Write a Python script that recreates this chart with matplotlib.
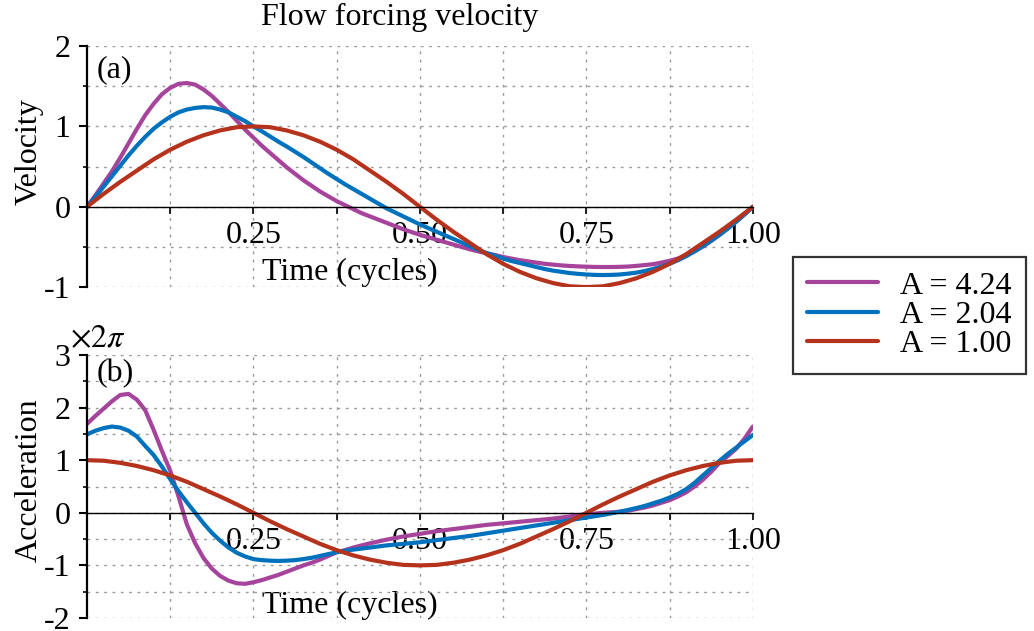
import numpy as np
import matplotlib
matplotlib.use("Agg")
import matplotlib.pyplot as plt
from matplotlib.ticker import MultipleLocator, FixedLocator, FixedFormatter

plt.rcParams['font.family'] = ['Liberation Serif', 'DejaVu Serif']
plt.rcParams['mathtext.fontset'] = 'stix'
plt.rcParams['axes.unicode_minus'] = False

# time samples (cycles): fine for A=4.24 / 2.04, coarse for A=1.00
t_fine = np.linspace(0, 1, 81)
t_coarse = np.linspace(0, 1, 41)

labels = ["A = 4.24", "A = 2.04", "A = 1.00"]
colors = ["#A6449B", "#0072BD", "#B5321C"]

# velocity
vel_a424 = [0, 0.14, 0.29, 0.44, 0.61, 0.79, 0.97, 1.14, 1.28, 1.40,
            1.48, 1.53, 1.54, 1.52, 1.46, 1.38, 1.28, 1.18, 1.07, 0.96,
            0.86, 0.76, 0.67, 0.58, 0.49, 0.41, 0.33, 0.26, 0.19, 0.13,
            0.07, 0.02, -0.03, -0.08, -0.12, -0.16, -0.20, -0.24, -0.28, -0.315,
            -0.35, -0.38, -0.41, -0.44, -0.47, -0.50, -0.53, -0.555, -0.58, -0.60,
            -0.625, -0.645, -0.665, -0.68, -0.695, -0.71, -0.72, -0.73, -0.737, -0.742,
            -0.746, -0.749, -0.75, -0.75, -0.748, -0.744, -0.736, -0.726, -0.715, -0.695,
            -0.672, -0.645, -0.605, -0.555, -0.495, -0.425, -0.35, -0.27, -0.185, -0.095,
            0]
vel_a204 = [0, 0.12, 0.25, 0.38, 0.51, 0.64, 0.76, 0.87, 0.97, 1.05,
            1.12, 1.175, 1.21, 1.23, 1.24, 1.235, 1.21, 1.175, 1.12, 1.065,
            1.0, 0.94, 0.875, 0.81, 0.75, 0.685, 0.62, 0.55, 0.48, 0.41,
            0.345, 0.28, 0.22, 0.16, 0.10, 0.04, -0.02, -0.07, -0.12, -0.17,
            -0.22, -0.265, -0.31, -0.355, -0.40, -0.445, -0.49, -0.535, -0.575, -0.61,
            -0.645, -0.675, -0.70, -0.725, -0.75, -0.775, -0.795, -0.81, -0.825, -0.835,
            -0.843, -0.848, -0.85, -0.848, -0.843, -0.833, -0.82, -0.80, -0.775, -0.745,
            -0.71, -0.665, -0.615, -0.555, -0.49, -0.42, -0.35, -0.27, -0.185, -0.095,
            0]
vel_a100 = [0, 0.16, 0.31, 0.45, 0.59, 0.71, 0.81, 0.89, 0.95, 0.99,
            1.00, 0.99, 0.95, 0.89, 0.81, 0.71, 0.59, 0.45, 0.31, 0.16,
            0, -0.16, -0.31, -0.45, -0.59, -0.71, -0.81, -0.89, -0.95, -0.99,
            -1.00, -0.99, -0.95, -0.89, -0.81, -0.71, -0.59, -0.45, -0.31, -0.16, 0]

# acceleration (x 2pi)
acc_a424 = [1.69, 1.84, 1.98, 2.12, 2.24, 2.26, 2.15, 1.95, 1.58, 1.18,
            0.80, 0.31, -0.22, -0.58, -0.86, -1.06, -1.20, -1.29, -1.34, -1.35,
            -1.32, -1.28, -1.23, -1.18, -1.12, -1.06, -1.00, -0.95, -0.89, -0.82,
            -0.75, -0.71, -0.66, -0.62, -0.58, -0.545, -0.51, -0.48, -0.45, -0.425,
            -0.40, -0.375, -0.35, -0.33, -0.31, -0.29, -0.27, -0.25, -0.23, -0.215,
            -0.20, -0.185, -0.17, -0.155, -0.14, -0.125, -0.11, -0.09, -0.07, -0.05,
            -0.03, -0.015, 0.0, 0.01, 0.02, 0.04, 0.07, 0.10, 0.14, 0.19,
            0.24, 0.31, 0.39, 0.50, 0.63, 0.78, 0.95, 1.08, 1.22, 1.41,
            1.64]
acc_a204 = [1.49, 1.56, 1.61, 1.64, 1.62, 1.56, 1.45, 1.27, 1.10, 0.88,
            0.64, 0.41, 0.20, 0.0, -0.20, -0.38, -0.53, -0.66, -0.76, -0.83,
            -0.88, -0.90, -0.91, -0.915, -0.91, -0.90, -0.88, -0.855, -0.82, -0.785,
            -0.75, -0.72, -0.70, -0.68, -0.66, -0.64, -0.62, -0.605, -0.59, -0.575,
            -0.56, -0.54, -0.52, -0.50, -0.48, -0.46, -0.44, -0.415, -0.39, -0.365,
            -0.34, -0.315, -0.29, -0.265, -0.24, -0.215, -0.19, -0.165, -0.14, -0.115,
            -0.09, -0.065, -0.04, -0.01, 0.02, 0.055, 0.09, 0.13, 0.18, 0.23,
            0.29, 0.36, 0.45, 0.57, 0.71, 0.85, 0.99, 1.12, 1.24, 1.36,
            1.48]
acc_a100 = [1.00, 0.99, 0.95, 0.89, 0.81, 0.71, 0.59, 0.45, 0.31, 0.16,
            0, -0.16, -0.31, -0.45, -0.59, -0.71, -0.81, -0.89, -0.95, -0.99,
            -1.00, -0.99, -0.95, -0.89, -0.81, -0.71, -0.59, -0.45, -0.31, -0.16,
            0, 0.16, 0.31, 0.45, 0.59, 0.71, 0.81, 0.89, 0.95, 0.99, 1.00]

times = [t_fine, t_fine, t_coarse]
vel = [vel_a424, vel_a204, vel_a100]
acc = [acc_a424, acc_a204, acc_a100]

fs = 23

fig = plt.figure(figsize=(10.34, 6.31), dpi=100)
ax1 = fig.add_axes([0.0841, 0.545, 0.644, 0.382])
ax2 = fig.add_axes([0.0841, 0.0206, 0.644, 0.4168])


def style_axis(ax, ylim):
    ax.set_xlim(0, 1)
    ax.set_ylim(*ylim)
    ax.spines['top'].set_visible(False)
    ax.spines['right'].set_visible(False)
    ax.spines['left'].set_linewidth(1.6)
    ax.spines['bottom'].set_position(('data', 0))
    ax.spines['bottom'].set_linewidth(1.0)
    ax.xaxis.set_major_locator(FixedLocator([0.25, 0.5, 0.75, 1.0]))
    ax.xaxis.set_major_formatter(FixedFormatter(["0.25", "0.50", "0.75", "1.00"]))
    ax.xaxis.set_minor_locator(FixedLocator([0.125, 0.375, 0.625, 0.875]))
    ax.yaxis.set_major_locator(MultipleLocator(1))
    ax.yaxis.set_minor_locator(MultipleLocator(0.5))
    ax.tick_params(axis='x', which='both', direction='out', length=5, width=1.2,
                   labelsize=fs, pad=5)
    ax.tick_params(axis='y', which='major', direction='out', length=6, width=1.5,
                   labelsize=fs, pad=6)
    ax.tick_params(axis='y', which='minor', direction='out', length=3, width=1.2)
    ax.grid(True, which='both', color='#9a9a9a', linestyle=(0, (2, 4)), linewidth=1.0)
    ax.set_axisbelow(True)


for i in range(3):
    ax1.plot(times[i], vel[i], color=colors[i], lw=3, label=labels[i],
             solid_capstyle='round', solid_joinstyle='round')
    ax2.plot(times[i], acc[i], color=colors[i], lw=3,
             solid_capstyle='round', solid_joinstyle='round')

style_axis(ax1, (-1, 2))
style_axis(ax2, (-2, 3))

ax1.set_ylabel("Velocity", fontsize=fs)
ax1.yaxis.label.set_verticalalignment('center')
ax1.yaxis.set_label_coords(-0.087, 0.56)
ax1.set_xlabel("Time (cycles)", fontsize=fs)
ax1.xaxis.label.set_verticalalignment('center')
ax1.xaxis.set_label_coords(0.395, 0.062)

ax2.set_ylabel("Acceleration", fontsize=fs)
ax2.yaxis.label.set_verticalalignment('center')
ax2.yaxis.set_label_coords(-0.087, 0.525)
ax2.set_xlabel("Time (cycles)", fontsize=fs)
ax2.xaxis.label.set_verticalalignment('center')
ax2.xaxis.set_label_coords(0.395, 0.049)

ax1.text(0.47, 1.12, "Flow forcing velocity", transform=ax1.transAxes,
         ha='center', va='center', fontsize=fs)
ax1.text(0.015, 0.90, "(a)", transform=ax1.transAxes, ha='left', va='center', fontsize=fs)
ax2.text(0.015, 0.93, "(b)", transform=ax2.transAxes, ha='left', va='center', fontsize=fs)
ax2.text(-0.026, 1.057, r"$\times 2\pi$", transform=ax2.transAxes, ha='left',
         va='center', fontsize=fs)

leg = fig.legend(loc='upper left', bbox_to_anchor=(0.767, 0.593), fontsize=fs,
                 frameon=True, fancybox=False, handlelength=2.2, labelspacing=0.0,
                 borderpad=0.45, handletextpad=0.7, borderaxespad=0.0)
leg.get_frame().set_edgecolor('black')
leg.get_frame().set_linewidth(1.6)

fig.savefig("out.png", dpi=100)
